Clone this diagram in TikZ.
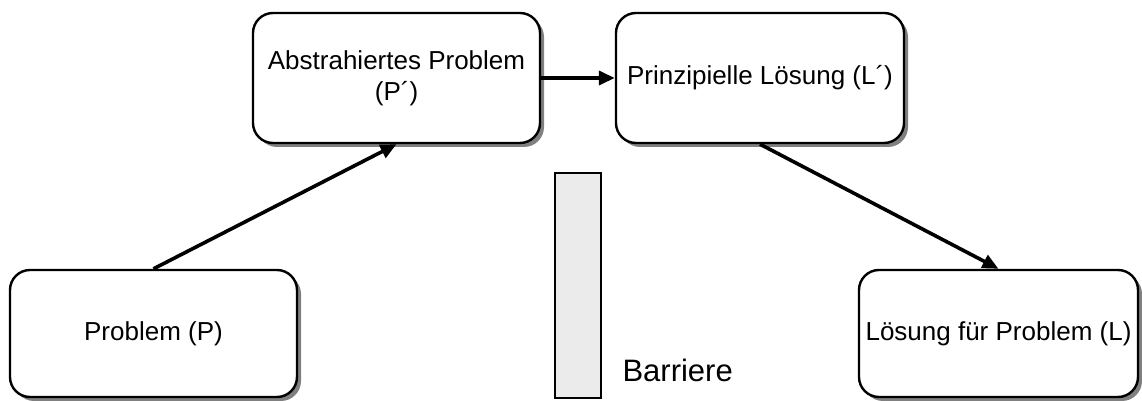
\documentclass[tikz,border=0pt]{standalone}
\usepackage{fontspec}
\setmainfont{Liberation Sans}
\usetikzlibrary{shadows,arrows.meta}
\begin{document}
\begin{tikzpicture}[x=1pt,y=1pt,
  stage/.style={draw=black, line width=2.4pt, fill=white, rounded corners=20pt,
    inner sep=0pt, align=center, font=\fontsize{26}{31}\selectfont,
    drop shadow={shadow xshift=4pt, shadow yshift=-4pt, fill=black!50, opacity=1}},
  flow/.style={line width=3.6pt, -{Triangle[length=16pt,width=14pt]}}]
\useasboundingbox (0,0) rectangle (1142,401);
% problem-solving stages
\node[stage, minimum width=287pt, minimum height=130pt] (abs) at (396.5,323) {Abstrahiertes Problem\\(P´)};
\node[stage, minimum width=288pt, minimum height=130pt] (prin) at (760,323) {Prinzipielle Lösung (L´)};
\node[stage, minimum width=287pt, minimum height=127pt] (prob) at (153.5,67.5) {Problem (P)};
\node[stage, minimum width=279pt, minimum height=127pt] (loes) at (998.5,67.5) {Lösung für Problem (L)};
% barrier between problem and solution
\node[draw=black, line width=1.6pt, fill=black!8, minimum width=46pt, minimum height=225pt, inner sep=0pt] (bar) at (578,115.5) {};
\node[font=\fontsize{31}{36}\selectfont, anchor=west] (barlabel) at (619,31) {Barriere};
% connectors
\draw[flow] (prob.north) -- (abs.south);
\draw[flow] (abs.east) -- (prin.west);
\draw[flow] (prin.south) -- (loes.north);
\end{tikzpicture}
\end{document}
